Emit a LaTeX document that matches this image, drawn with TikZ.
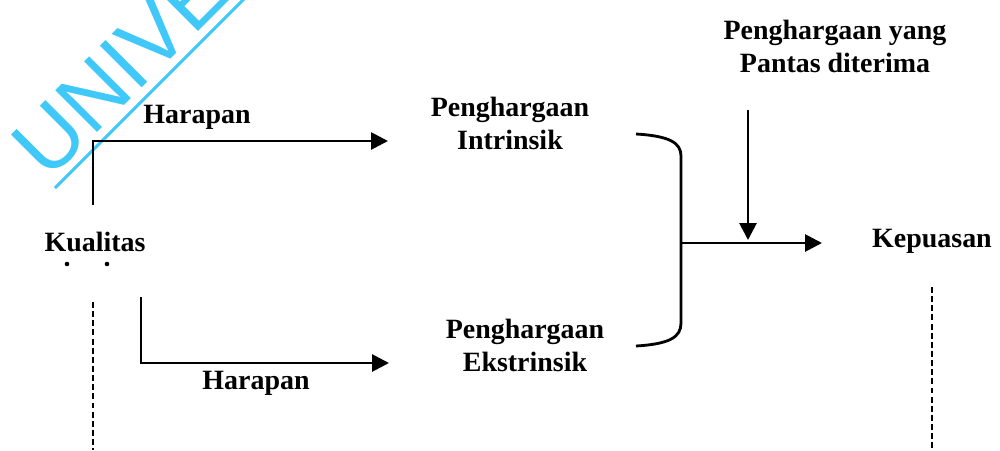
\documentclass[tikz,border=0pt]{standalone}
\usepackage{fontspec}
\setmainfont{Liberation Serif}
\newfontfamily\wmfont{Liberation Sans}
\usetikzlibrary{arrows.meta}
\definecolor{wmcyan}{RGB}{64,200,248}
\begin{document}
\begin{tikzpicture}[x=0.02cm,y=-0.02cm,
  txt/.style={font=\fontsize{15.9}{18.8}\selectfont\bfseries, align=center, inner sep=0pt},
  flow/.style={line width=1.6pt, -{Triangle[length=0.34cm,width=0.34cm]}},
  plain/.style={line width=1.6pt},
  guide/.style={line width=1.6pt, dash pattern=on 3.4pt off 1.8pt},
  wmark/.style={font=\wmfont\fontsize{48.9}{48.9}\selectfont, text=wmcyan, inner sep=0pt, rotate=45, anchor=base west}]
\useasboundingbox (0,0) rectangle (1000,450);

% watermark, cut at the page edge
\begin{scope}
  \clip (0,0) rectangle (1000,450);
  \node[wmark] (wm) at (48.5,181.5) {UNIVE};
  \draw[wmcyan, line width=1.7pt] (55,188) -- (300,-57);
\end{scope}

% labels
\node[txt] (kual) at (95,242) {Kualitas};
\node[txt] (harTop) at (197,117) {Harapan};
\node[txt] (harBot) at (256,383) {Harapan};
\node[txt] (intr) at (510,123) {Penghargaan\\Intrinsik};
\node[txt] (ekst) at (525,345) {Penghargaan\\Ekstrinsik};
\node[txt] (pantas) at (835,46) {Penghargaan yang\\Pantas diterima};
\node[txt] (kep) at (932,241) {Kepuasan};

% connector end points
\coordinate (kTop) at (93,205);
\coordinate (kLow) at (141,297);
\coordinate (intrIn) at (388,141);
\coordinate (ekstIn) at (389,363);
\coordinate (merge) at (681,243);
\coordinate (kepIn) at (822,243);
\coordinate (pantasOut) at (748,110);
\coordinate (pantasIn) at (748,240);

% expectation arrows
\draw[flow] (kTop) |- (intrIn);
\draw[flow] (kLow) |- (ekstIn);

% bracket joining both rewards
\draw[plain] (636,134) .. controls (670,136) and (681,143) .. (681,156)
  -- (681,323) .. controls (681,337) and (670,344) .. (636,346);
\draw[flow] (merge) -- (kepIn);
\draw[flow] (pantasOut) -- (pantasIn);

% marks under Kualitas
\fill (67,264) circle (1.3pt);
\fill (107,264) circle (1.3pt);

% dashed guides
\draw[guide] (93,302) -- (93,450);
\draw[guide] (932,287) -- (932,450);
\end{tikzpicture}
\end{document}
